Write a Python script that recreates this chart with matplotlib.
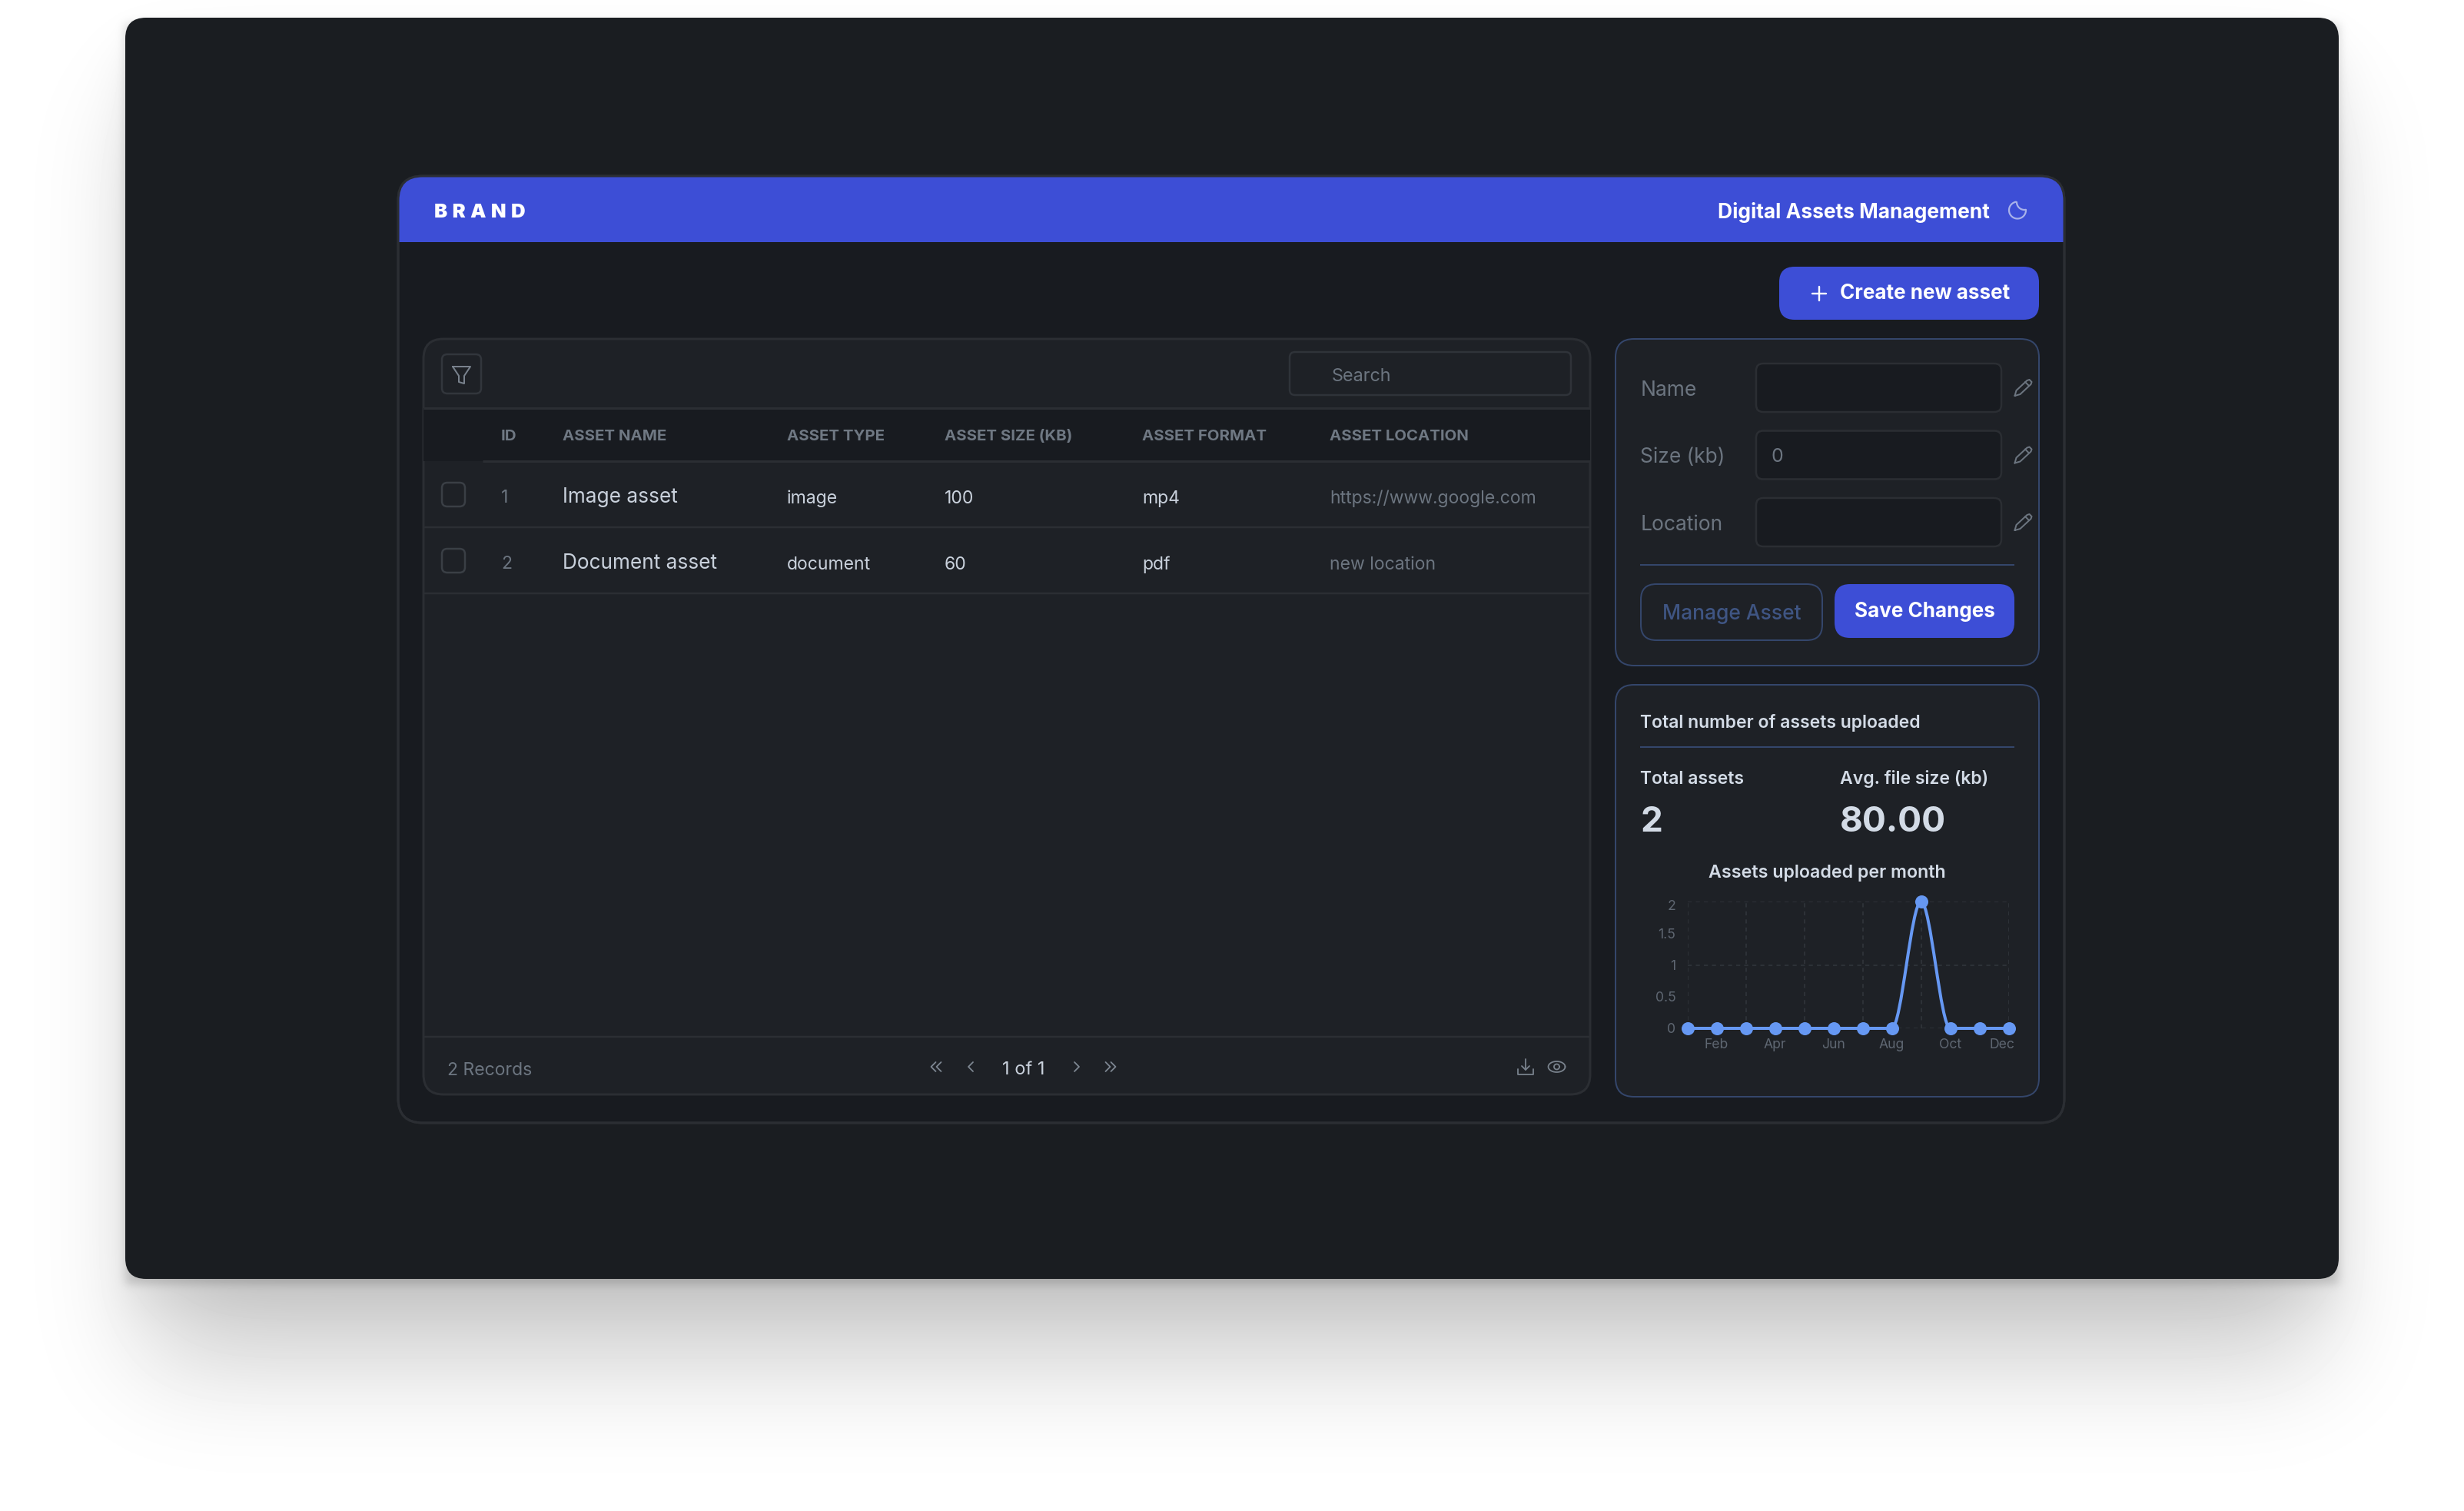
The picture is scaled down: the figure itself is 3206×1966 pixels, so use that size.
import math
import numpy as np
import matplotlib
matplotlib.use('Agg')
import matplotlib.pyplot as plt
from matplotlib.patches import FancyBboxPatch, Rectangle, PathPatch
from matplotlib.path import Path
from matplotlib.transforms import ScaledTranslation

W, H = 3206, 1966
PT = 0.72  # px -> pt at dpi 100

plt.rcParams['font.family'] = ['Inter', 'DejaVu Sans']

# chart data
months = ['Jan', 'Feb', 'Mar', 'Apr', 'May', 'Jun', 'Jul', 'Aug', 'Sep', 'Oct', 'Nov', 'Dec']
uploads = [0, 0, 0, 0, 0, 0, 0, 0, 2, 0, 0, 0]
y_ticks = [0, 0.5, 1, 1.5, 2]
y_tick_labels = ['0', '0.5', '1', '1.5', '2']
x_ticks = [1, 3, 5, 7, 9, 11]

# table data
columns = ['ID', 'ASSET NAME', 'ASSET TYPE', 'ASSET SIZE (KB)', 'ASSET FORMAT', 'ASSET LOCATION']
ids = ['1', '2']
names = ['Image asset', 'Document asset']
types = ['image', 'document']
sizes = ['100', '60']
formats = ['mp4', 'pdf']
locations = ['https://www.google.com', 'new location']
form_labels = ['Name', 'Size (kb)', 'Location']

CARD = '#1a1d21'
DARK = '#181b20'
PANEL = '#1e2126'
EDGE = '#2b2e33'
BLUE = '#3d4ed6'
STEEL = '#34466b'
LIGHT = '#d3dbe6'
MUTED = '#6c7580'
SOFT = '#c9d1dc'

fig = plt.figure(figsize=(W / 100, H / 100), dpi=100, facecolor='white')
ui = fig.add_axes([0, 0, 1, 1])
ui.set_xlim(0, W)
ui.set_ylim(H, 0)
ui.axis('off')


def box(x0, y0, x1, y1, r, fc='none', ec='none', lw=2.0, z=2):
    p = FancyBboxPatch((x0, y0), x1 - x0, y1 - y0, boxstyle=f'round,pad=0,rounding_size={r}',
                       fc=fc, ec=ec, lw=lw * PT, zorder=z)
    ui.add_patch(p)
    return p


def label(x, cy, s, px, color, weight='normal', ha='left', z=6):
    # cy is the middle of the capitals
    ui.text(x, cy + 0.36 * px, s, fontsize=px * PT, color=color, fontweight=weight,
            ha=ha, va='baseline', zorder=z)


def stroke(xs, ys, color=MUTED, lw=2.0, z=6):
    ui.plot(xs, ys, color=color, lw=lw * PT, zorder=z, solid_capstyle='round', solid_joinstyle='round')


def erf_box(v, a, b, s):
    f = np.vectorize(math.erf)
    return 0.5 * (f((v - a) / (s * 2 ** 0.5)) - f((v - b) / (s * 2 ** 0.5)))


# shadow under the card
xx = np.arange(W) + 0.5
yy = np.arange(H) + 0.5
shade = np.ones((H, W))
for dy, inset, sigma, alpha in [(110, 25, 70, 0.20), (40, 0, 25, 0.05), (8, 0, 6, 0.16)]:
    sx = erf_box(xx, 163 + inset, 3043 - inset, sigma)
    sy = erf_box(yy, 23 + dy, 1663 + dy, sigma)
    shade *= 1 - alpha * np.outer(sy, sx)
ui.imshow(shade, cmap='gray', vmin=0, vmax=1, extent=(0, W, H, 0), aspect='auto', zorder=0,
          interpolation='nearest')
ui.set_xlim(0, W)
ui.set_ylim(H, 0)

# outer card and app frame
box(163, 23, 3043, 1664, 27, fc=CARD, z=1)
frame = box(518, 229, 2686, 1461, 32, fc=DARK, ec=EDGE, lw=3)
bar = Rectangle((518, 229), 2168, 86, fc=BLUE, ec='none', zorder=3)
ui.add_patch(bar)
bar.set_clip_path(frame)
box(518, 229, 2686, 1461, 32, ec=EDGE, lw=3, z=4)
label(565, 274, 'B\u2005R\u2005A\u2005N\u2005D', 25.6, 'white', 'black')
label(2235, 274, 'Digital Assets Management', 26.4, 'white', 'bold')

# moon
a = np.radians(np.linspace(-100, -360, 40))
b = np.radians(np.linspace(79, 180, 20))
stroke(2625 + 11 * np.cos(a), 273.5 + 11 * np.sin(a), '#a9b2ea', 2.2)
stroke(2634 + 10 * np.cos(b), 263 + 10 * np.sin(b), '#a9b2ea', 2.2)

# create button
box(2315, 347, 2653, 416, 20, fc=BLUE, z=3)
stroke([2357.5, 2375.5], [382, 382], 'white', 2.4)
stroke([2366.5, 2366.5], [373, 391], 'white', 2.4)
label(2393.5, 380, 'Create new asset', 26.1, 'white', 'bold')

# table panel
panel = box(551, 441, 2069, 1424, 26, fc=PANEL, ec=EDGE, lw=3)
head = Rectangle((551, 531), 1518, 69, fc=DARK, ec='none', zorder=3)
ui.add_patch(head)
head.set_clip_path(panel)
ui.plot([551, 2069], [531, 531], color=EDGE, lw=3 * PT, zorder=4, solid_capstyle='butt')
ui.plot([628, 2069], [600, 600], color=EDGE, lw=3 * PT, zorder=4, solid_capstyle='butt')
for ly in [686, 772, 1349]:
    ui.plot([551, 2069], [ly, ly], color=EDGE, lw=2.5 * PT, zorder=4, solid_capstyle='butt')

# filter and search
box(575, 461, 626, 512, 7, ec='#32363c', lw=2.5, z=4)
stroke([589, 612, 604, 604, 597, 597, 589], [477, 477, 489, 499, 497, 489, 477], '#79828d', 2)
box(1678, 458, 2044, 514, 7, ec='#2f3339', lw=2.5, z=4)
label(1733, 488, 'Search', 23.4, MUTED)

# table text
col_x = [651.5, 732, 1024, 1229, 1486.5, 1730]
for x, c in zip(col_x, columns):
    label(x, 565.5, c, 20.4, '#6f7883', 'bold')
row_cy = [646, 732]
for i, cy in enumerate(row_cy):
    box(575, cy - 18, 605, cy + 13, 7, ec='#3a3f45', lw=2.5, z=4)
    label(652, cy, ids[i], 23, MUTED)
    label(732, cy - 1, names[i], 26.2, SOFT)
    label(1024, cy + 1, types[i], 23, SOFT)
    label(1229, cy + 1, sizes[i], 23, SOFT)
    label(1486.5, cy + 1, formats[i], 23, SOFT)
    label(1730, cy + 1, locations[i], 23, MUTED)

# footer
label(582, 1390.5, '2 Records', 23, MUTED)
label(1304, 1390, '1 of 1', 23.6, SOFT)
for cx, sign, dbl in [(1218, 1, True), (1263, 1, False), (1401, -1, False), (1445, -1, True)]:
    for off in ([-3.5, 3.5] if dbl else [0]):
        stroke([cx + off + 3 * sign, cx + off - 3 * sign, cx + off + 3 * sign], [1382, 1388, 1394], '#7e8792', 1.8)
stroke([1985, 1985], [1378, 1392], '#79828d', 1.8)
stroke([1980, 1985, 1990], [1387, 1392, 1387], '#79828d', 1.8)
stroke([1975, 1975, 1995, 1995], [1391, 1398, 1398, 1391], '#79828d', 1.8)
t = np.linspace(0, 2 * np.pi, 40)
stroke(2025.5 + 11 * np.cos(t), 1388 + 7 * np.sin(t), '#79828d', 1.8)
stroke(2025.5 + 3.5 * np.cos(t), 1388 + 3.5 * np.sin(t), '#79828d', 1.8)

# form panel
box(2102, 441, 2653, 866, 24, fc=PANEL, ec=STEEL, lw=2)
form_cy = [505, 592.5, 680]
for s, cy in zip(form_labels, form_cy):
    label(2134.5, cy, s, 26.4, MUTED)
    box(2285, cy - 32, 2604, cy + 31, 9, fc=DARK, ec='#2b2e33', lw=2.5, z=4)
    px = np.array([-11, -9, 5, 8, 11, 10, -4, -11])
    py = np.array([10, 3, -10, -11, -8, -5, 8, 10])
    stroke(2632.5 + px, cy + py, MUTED, 2)
    stroke([2635, 2640], [cy - 8, cy - 3], MUTED, 2)
label(2305, 592, '0', 25, MUTED)
ui.plot([2134, 2621], [735, 735], color=STEEL, lw=2 * PT, zorder=4, solid_capstyle='butt')
box(2135, 760, 2371, 833, 20, ec=STEEL, lw=2, z=4)
label(2253, 796, 'Manage Asset', 26.4, '#3f5583', 'medium', ha='center')
box(2387, 760, 2621, 830, 20, fc=BLUE, z=4)
label(2504, 794, 'Save Changes', 26.1, 'white', 'bold', ha='center')

# stats panel
box(2102, 891, 2653, 1427, 24, fc=PANEL, ec=STEEL, lw=2)
label(2134.5, 939, 'Total number of assets uploaded', 23, LIGHT, 'semibold')
ui.plot([2134, 2621], [971.5, 971.5], color=STEEL, lw=2 * PT, zorder=4, solid_capstyle='butt')
label(2134.5, 1011.5, 'Total assets', 23, LIGHT, 'semibold')
label(2393.5, 1011.5, 'Avg. file size (kb)', 23, LIGHT, 'semibold')
label(2134.5, 1066, '2', 45.8, LIGHT, 'bold')
label(2393.5, 1066, '80.00', 45.8, LIGHT, 'bold')
label(2377.5, 1134, 'Assets uploaded per month', 23.2, LIGHT, 'semibold', ha='center')

# line chart
ax = fig.add_axes([2195.5 / W, 1 - 1338 / H, 418 / W, 165 / H], zorder=2)
ax.patch.set_alpha(0)
ax.set_xlim(0, 11)
ax.set_ylim(0, 2)
for s in ax.spines.values():
    s.set_visible(False)
grid_kw = dict(color='#33373d', lw=1.5 * PT, ls=(0, (3.5, 3.5)), zorder=1)
for gx in [0, 2, 4, 6, 8, 11]:
    ax.axvline(gx, **grid_kw)
for gy in [0, 1, 2]:
    ax.axhline(gy, **grid_kw)

xs = np.arange(len(uploads))
verts = [(xs[0], uploads[0])]
codes = [Path.MOVETO]
for i in range(len(uploads) - 1):
    verts += [(xs[i] + 1 / 3, uploads[i]), (xs[i + 1] - 1 / 3, uploads[i + 1]), (xs[i + 1], uploads[i + 1])]
    codes += [Path.CURVE4] * 3
ax.add_patch(PathPatch(Path(verts, codes), fc='none', ec='#6698f3', lw=4 * PT, clip_on=False, zorder=3))
ax.plot(xs, uploads, 'o', color='#6698f3', ms=17 * PT, mew=0, clip_on=False, zorder=4)

ax.set_xticks(x_ticks)
ax.set_xticklabels([months[i] for i in x_ticks])
ax.set_yticks(y_ticks)
ax.set_yticklabels(y_tick_labels)
ax.tick_params(axis='y', length=0, labelsize=17.6 * PT, labelcolor='#5f6772', pad=15 * PT)
ax.tick_params(axis='x', length=0, labelsize=17.6 * PT, labelcolor='#5f6772', pad=13 * PT)
last = ax.get_xticklabels()[-1]
last.set_ha('right')
last.set_transform(last.get_transform() + ScaledTranslation(8 / 100, 0, fig.dpi_scale_trans))
top = ax.get_yticklabels()[-1]
top.set_transform(top.get_transform() + ScaledTranslation(0, -4 / 100, fig.dpi_scale_trans))

fig.savefig('out.png', dpi=100)
